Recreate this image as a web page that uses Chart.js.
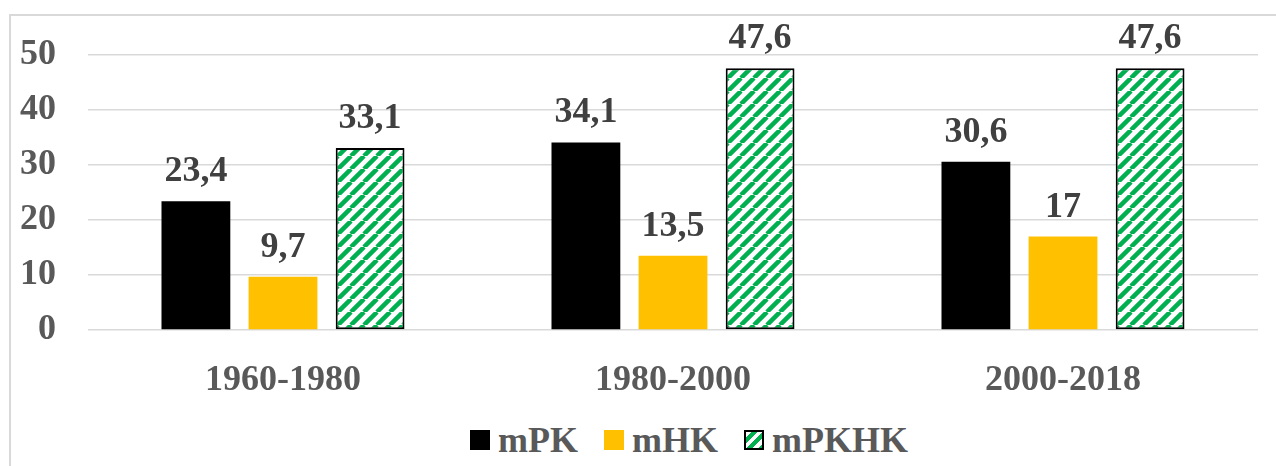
<!DOCTYPE html>
<html>
<head>
<meta charset="utf-8">
<script src="https://cdn.jsdelivr.net/npm/chart.js@4"></script>
<style>
  html, body { margin: 0; padding: 0; background: #fff; overflow: hidden; }
  #frame { position: absolute; left: 9px; top: 14px; width: 1400px; height: 600px; border: 2px solid #d9d9d9; }
  #myChart { position: absolute; left: 0; top: 0; }
  #legend { position: absolute; left: 470px; top: 422px; display: flex; align-items: center;
            font: bold 36px "Liberation Serif", "Times New Roman", serif; color: #595959; line-height: 36px; }
  .item { display: flex; align-items: center; margin-right: 26px; }
  .box { width: 20px; height: 20px; margin-right: 8px; box-sizing: border-box; }
</style>
</head>
<body>
<div id="frame"></div>
<canvas id="myChart" width="1276" height="420"></canvas>
<div id="legend"></div>
<script>
const categories = ['1960-1980', '1980-2000', '2000-2018'];
const seriesNames = ['mPK', 'mHK', 'mPKHK'];
const mPK   = [23.4, 34.1, 30.6];
const mHK   = [9.7, 13.5, 17];
const mPKHK = [33.1, 47.6, 47.6];
const yTicks = [0, 10, 20, 30, 40, 50];

const black  = '#000000';
const yellow = '#ffc000';
const green  = '#00b050';
const serif  = '"Liberation Serif", "Times New Roman", serif';

function hatch(ctx) {
    const s = 13;
    const c = document.createElement('canvas');
    c.width = s; c.height = s;
    const g = c.getContext('2d');
    g.fillStyle = '#fff';
    g.fillRect(0, 0, s, s);
    g.strokeStyle = green;
    g.lineWidth = 4.5;
    g.beginPath();
    for (let k = -1; k <= 1; k++) {
        g.moveTo(k * s, s);
        g.lineTo(k * s + s, 0);
    }
    g.stroke();
    return ctx.createPattern(c, 'repeat');
}

// value labels above bars, comma decimal
const valueLabels = {
    id: 'valueLabels',
    afterDatasetsDraw(chart) {
        const c = chart.ctx;
        c.save();
        c.font = 'bold 36px ' + serif;
        c.fillStyle = '#404040';
        c.textAlign = 'center';
        c.textBaseline = 'alphabetic';
        chart.data.datasets.forEach((ds, i) => {
            chart.getDatasetMeta(i).data.forEach((bar, j) => {
                c.fillText(String(ds.data[j]).replace('.', ','), bar.x, bar.y - 20);
            });
        });
        c.restore();
    }
};

const ctx = document.getElementById('myChart');
const pattern = hatch(ctx.getContext('2d'));

new Chart(ctx, {
    type: 'bar',
    data: {
        labels: categories,
        datasets: [
            { label: seriesNames[0], data: mPK, backgroundColor: black, borderWidth: 0 },
            { label: seriesNames[1], data: mHK, backgroundColor: yellow, borderWidth: 0 },
            { label: seriesNames[2], data: mPKHK, backgroundColor: pattern,
              borderColor: black, borderWidth: 2, borderSkipped: false }
        ]
    },
    options: {
        responsive: false,
        animation: false,
        categoryPercentage: 0.67,
        barPercentage: 0.79,
        layout: { padding: { top: 55, right: 18, left: 0, bottom: 0 } },
        plugins: { legend: { display: false }, tooltip: { enabled: false } },
        scales: {
            x: {
                grid: { display: false },
                border: { display: false },
                ticks: { color: '#595959', padding: 21, font: { family: serif, size: 36, weight: 'bold' } },
                afterFit(scale) { scale.height = 90; }
            },
            y: {
                min: 0,
                max: 50,
                afterBuildTicks(scale) { scale.ticks = yTicks.map(v => ({ value: v })); },
                grid: { color: '#d9d9d9', lineWidth: 1.5, drawTicks: false },
                border: { display: false },
                ticks: { color: '#595959', padding: 32, font: { family: serif, size: 36, weight: 'bold' } },
                afterFit(scale) { scale.width = 88; }
            }
        }
    },
    plugins: [valueLabels]
});

// legend
const legend = document.getElementById('legend');
const swatches = [
    'background:' + black,
    'background:' + yellow,
    'border:2px solid #000;background:repeating-linear-gradient(135deg,#fff 0 4px,' + green + ' 4px 8px)'
];
seriesNames.forEach((name, i) => {
    const item = document.createElement('div');
    item.className = 'item';
    item.innerHTML = '<span class="box" style="' + swatches[i] + '"></span><span>' + name + '</span>';
    legend.appendChild(item);
});
</script>
</body>
</html>
